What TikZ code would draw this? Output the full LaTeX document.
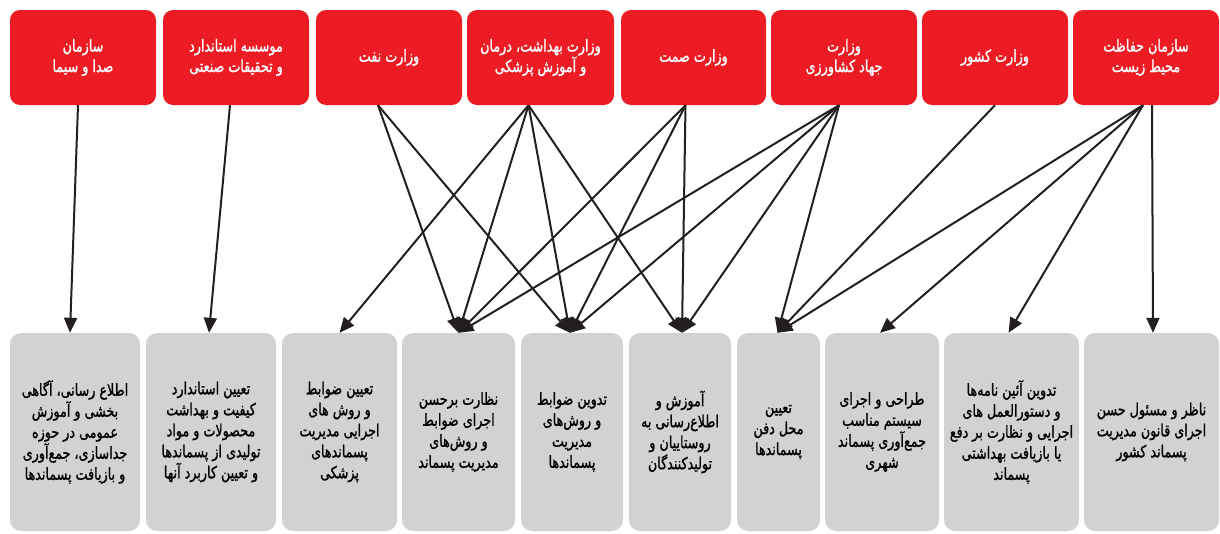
\documentclass[tikz,border=0pt]{standalone}
\usepackage{fontspec}
\usepackage{tikz}
\usetikzlibrary{arrows.meta}
\newfontfamily\farsifont[Script=Arabic,FakeStretch=0.77,FakeBold=1.2]{DejaVu Sans}
\TeXXeTstate=1
\newcommand{\fa}[1]{\beginR #1\endR}
\definecolor{sorkh}{RGB}{237,28,36}
\definecolor{tousi}{RGB}{209,210,212}
\definecolor{siah}{RGB}{35,31,32}

\begin{document}
\begin{tikzpicture}[x=1pt,y=-1pt,
  nahad/.style={fill=sorkh, rounded corners=10pt, text=white, align=center, inner sep=0pt,
    minimum height=95pt, font=\farsifont\fontsize{16.5}{20.5}\selectfont},
  vazife/.style={fill=tousi, rounded corners=11pt, text=black, align=center, inner sep=0pt,
    minimum height=198pt, font=\farsifont\fontsize{16.5}{21}\selectfont},
  peykan/.style={draw=siah, line width=2pt, -{Triangle[length=15pt,width=13pt]}}]
\useasboundingbox (0,0) rectangle (1220,533);

\node [nahad, minimum width=146pt] (sima) at (83,57.5) {\fa{سازمان}\\\fa{صدا و سیما}};
\node [nahad, minimum width=146pt] (estandard) at (236,57.5) {\fa{موسسه استاندارد}\\\fa{و تحقیقات صنعتی}};
\node [nahad, minimum width=146pt] (naft) at (389,57.5) {\fa{وزارت نفت}};
\node [nahad, minimum width=147pt] (behdasht) at (540.5,57.5) {\fa{وزارت بهداشت، درمان}\\\fa{و آموزش پزشکی}};
\node [nahad, minimum width=145pt] (samt) at (693.5,57.5) {\fa{وزارت صمت}};
\node [nahad, minimum width=146pt] (jahad) at (844,57.5) {\fa{وزارت}\\\fa{جهاد کشاورزی}};
\node [nahad, minimum width=146pt] (keshvar) at (995,57.5) {\fa{وزارت کشور}};
\node [nahad, minimum width=146pt] (mohit) at (1146,57.5) {\fa{سازمان حفاظت}\\\fa{محیط زیست}};

\node [vazife, minimum width=130pt] (amuzesh) at (75,432) {\fa{اطلاع رسانی، آگاهی}\\\fa{بخشی و آموزش}\\\fa{عمومی در حوزه}\\\fa{جداسازی، جمع^^^^200cآوری}\\\fa{و بازیافت پسماندها}};
\node [vazife, minimum width=130pt] (keyfiat) at (211,432) {\fa{تعیین استاندارد}\\\fa{کیفیت و بهداشت}\\\fa{محصولات و مواد}\\\fa{تولیدی از پسماندها}\\\fa{و تعیین کاربرد آنها}};
\node [vazife, minimum width=115pt] (pezeshki) at (339.5,432) {\fa{تعیین ضوابط}\\\fa{و روش های}\\\fa{اجرایی مدیریت}\\\fa{پسماندهای}\\\fa{پزشکی}};
\node [vazife, minimum width=113pt] (nezarat) at (458.5,432) {\fa{نظارت برحسن}\\\fa{اجرای ضوابط}\\\fa{و روش^^^^200cهای}\\\fa{مدیریت پسماند}};
\node [vazife, minimum width=102pt] (zavabet) at (572,432) {\fa{تدوین ضوابط}\\\fa{و روش^^^^200cهای}\\\fa{مدیریت}\\\fa{پسماندها}};
\node [vazife, minimum width=102pt] (rusta) at (680,432) {\fa{آموزش و}\\\fa{اطلاع^^^^200cرسانی به}\\\fa{روستاییان و}\\\fa{تولیدکنندگان}};
\node [vazife, minimum width=83pt] (dafn) at (778.5,432) {\fa{تعیین}\\\fa{محل دفن}\\\fa{پسماندها}};
\node [vazife, minimum width=114pt] (shahri) at (882,432) {\fa{طراحی و اجرای}\\\fa{سیستم مناسب}\\\fa{جمع^^^^200cآوری پسماند}\\\fa{شهری}};
\node [vazife, minimum width=135pt] (aeinname) at (1011.5,432) {\fa{تدوین آئین نامه^^^^200cها}\\\fa{و دستورالعمل های}\\\fa{اجرایی و نظارت بر دفع}\\\fa{یا بازیافت بهداشتی}\\\fa{پسماند}};
\node [vazife, minimum width=135pt] (nazer) at (1151.5,432) {\fa{ناظر و مسئول حسن}\\\fa{اجرای قانون مدیریت}\\\fa{پسماند کشور}};

\draw [peykan] ([xshift=-5pt]sima.south) -- ([xshift=-5pt]amuzesh.north);
\draw [peykan] ([xshift=-6pt]estandard.south) -- ([xshift=-2pt]keyfiat.north);
\draw [peykan] ([xshift=-11pt]naft.south) -- (nezarat.north);
\draw [peykan] ([xshift=-11pt]naft.south) -- ([xshift=-2pt]zavabet.north);
\draw [peykan] ([xshift=-12pt]behdasht.south) -- (pezeshki.north);
\draw [peykan] ([xshift=-12pt]behdasht.south) -- (nezarat.north);
\draw [peykan] ([xshift=-12pt]behdasht.south) -- ([xshift=-2pt]zavabet.north);
\draw [peykan] ([xshift=-12pt]behdasht.south) -- ([xshift=2pt]rusta.north);
\draw [peykan] ([xshift=-8pt]samt.south) -- (nezarat.north);
\draw [peykan] ([xshift=-8pt]samt.south) -- ([xshift=-2pt]zavabet.north);
\draw [peykan] ([xshift=-8pt]samt.south) -- ([xshift=2pt]rusta.north);
\draw [peykan] ([xshift=-5pt]jahad.south) -- (nezarat.north);
\draw [peykan] ([xshift=-5pt]jahad.south) -- ([xshift=-2pt]zavabet.north);
\draw [peykan] ([xshift=-5pt]jahad.south) -- ([xshift=2pt]rusta.north);
\draw [peykan] ([xshift=-5pt]jahad.south) -- ([xshift=-1pt]dafn.north);
\draw [peykan] (keshvar.south) -- ([xshift=-1pt]dafn.north);
\draw [peykan] ([xshift=-3pt]mohit.south) -- ([xshift=-1pt]dafn.north);
\draw [peykan] ([xshift=-3pt]mohit.south) -- ([xshift=-2pt]shahri.north);
\draw [peykan] ([xshift=-3pt]mohit.south) -- ([xshift=-3pt]aeinname.north);
\draw [peykan] ([xshift=6pt]mohit.south) -- ([xshift=1.5pt]nazer.north);

\end{tikzpicture}
\end{document}
